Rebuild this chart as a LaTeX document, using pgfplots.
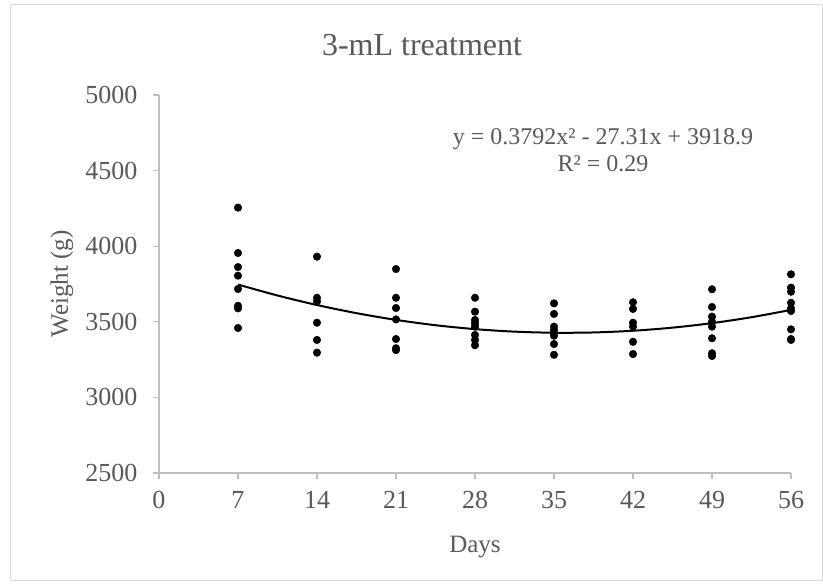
\documentclass[border=0pt]{standalone}
\usepackage{fontspec}
\setmainfont{Liberation Serif}
\usepackage{pgfplots}
\pgfplotsset{compat=1.18}
\usepackage{pgfplotstable}

\definecolor{txtgray}{HTML}{595959}
\definecolor{axgray}{HTML}{BFBFBF}
\definecolor{framegray}{HTML}{D9D9D9}

% weights (g), by day
\pgfplotstableread{
day weight
7 4255
7 3955
7 3862
7 3805
7 3717
7 3606
7 3589
7 3459
14 3931
14 3659
14 3635
14 3494
14 3380
14 3296
21 3849
21 3659
21 3591
21 3516
21 3386
21 3325
21 3313
28 3659
28 3567
28 3512
28 3490
28 3468
28 3413
28 3380
28 3345
35 3622
35 3552
35 3468
35 3446
35 3424
35 3408
35 3353
35 3282
42 3629
42 3585
42 3494
42 3468
42 3368
42 3287
49 3715
49 3598
49 3534
49 3500
49 3468
49 3391
49 3292
49 3274
56 3814
56 3726
56 3699
56 3626
56 3589
56 3571
56 3450
56 3386
56 3380
}\weights

% trendline, read at every half week
\pgfplotstableread{
day fit
7 3746.3
10.5 3673.9
14 3610.9
17.5 3557.1
21 3512.6
24.5 3477.4
28 3451.5
31.5 3434.9
35 3427.6
38.5 3429.5
42 3440.8
45.5 3461.3
49 3491.2
52.5 3530.3
56 3578.7
}\trend

\begin{document}
\begin{tikzpicture}
\useasboundingbox (-159bp,-111bp) rectangle (664bp,473bp);
\draw[framegray, line width=1bp] (-148bp,-107bp) rectangle (663bp,468bp);
\begin{axis}[
    scale only axis,
    width=632bp, height=378bp,
    xmin=0, xmax=56, ymin=2500, ymax=5000,
    xtick={0,7,...,56}, ytick={2500,3000,...,5000},
    axis x line=bottom, axis y line=left,
    axis line style={axgray, line width=1.2bp, -},
    tick style={axgray, line width=1.2bp},
    tick align=outside, major tick length=6bp,
    ticklabel style={txtgray, font=\fontsize{26bp}{30bp}\selectfont},
    /pgf/number format/assume math mode=true,
    /pgf/number format/1000 sep={},
    yticklabel style={xshift=-12bp},
    xticklabel style={yshift=-9bp},
    clip=false,
]
\addplot[only marks, mark=*, mark size=3.8bp, black] table[x=day, y=weight] {\weights};
\addplot[black, line width=2bp, smooth, no marks] table[x=day, y=fit] {\trend};
\end{axis}
\node[txtgray, font=\fontsize{32bp}{36bp}\selectfont] at (263bp,428bp) {3-mL treatment};
\node[txtgray, font=\fontsize{25bp}{29bp}\selectfont] at (316bp,-74bp) {Days};
\node[txtgray, font=\fontsize{25bp}{29bp}\selectfont, rotate=90] at (-97bp,189bp) {Weight (g)};
\node[txtgray, font=\fontsize{24bp}{27bp}\selectfont, align=center] at (444bp,323bp)
  {y = 0.3792x² - 27.31x + 3918.9\\R² = 0.29};
\end{tikzpicture}
\end{document}
